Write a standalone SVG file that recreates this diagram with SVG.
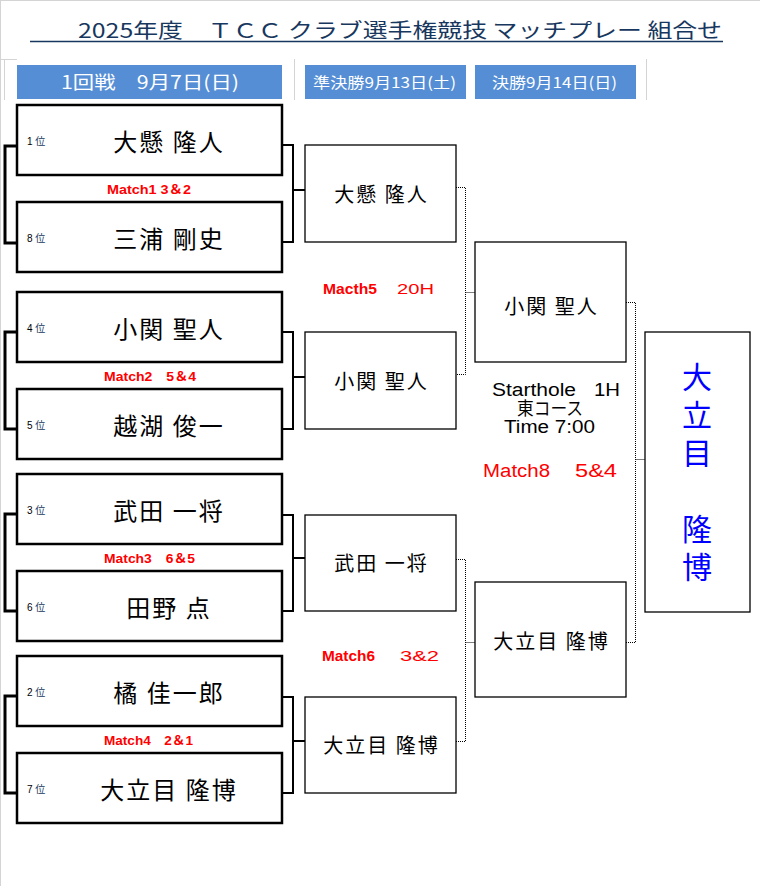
<svg xmlns="http://www.w3.org/2000/svg" width="760" height="886" viewBox="0 0 760 886">
<style>
  .bg { fill: #ffffff; }
  .grid { stroke: #d4d4d4; stroke-width: 1; fill: none; }
  .title { font-family: "Noto Sans CJK JP", "Liberation Sans", sans-serif; font-size: 20px; fill: #17375e; }
  .bar { fill: #558ed5; }
  .bartxt { font-family: "Noto Sans CJK JP", "Liberation Sans", sans-serif; fill: #ffffff; }
  .box1 { fill: #ffffff; stroke: #000000; stroke-width: 2.5; }
  .box2 { fill: #ffffff; stroke: #000000; stroke-width: 1.3; }
  .name { font-family: "Noto Sans CJK JP", sans-serif; fill: #000000; text-anchor: middle; }
  .n1 { font-size: 24px; letter-spacing: 2px; }
  .n2 { font-size: 20px; letter-spacing: 2px; }
  .rank { font-family: "Liberation Sans", "Noto Sans CJK JP", sans-serif; font-size: 10px; fill: #000000; }
  .rankc { fill: #17375e; font-family: "Noto Sans CJK JP", sans-serif; }
  .match { font-family: "Liberation Sans", "Noto Sans CJK JP", sans-serif; font-size: 12px; font-weight: bold; fill: #ff0000; }
  .matchs { font-family: "Liberation Sans", "Noto Sans CJK JP", sans-serif; font-size: 14px; font-weight: bold; fill: #ff0000; }
  .matchn { font-family: "Liberation Sans", "Noto Sans CJK JP", sans-serif; font-size: 15px; fill: #ff0000; }
  .info { font-family: "Liberation Sans", "Noto Sans CJK JP", sans-serif; font-size: 18px; fill: #000000; }
  .red18 { font-family: "Liberation Sans", "Noto Sans CJK JP", sans-serif; font-size: 18px; fill: #ff0000; }
  .champ { font-family: "Noto Sans CJK JP", sans-serif; font-size: 30px; fill: #0000ff; writing-mode: vertical-rl; letter-spacing: 8px; }
  .thick { stroke: #000000; stroke-width: 3; fill: none; }
  .mid { stroke: #000000; stroke-width: 2; fill: none; }
  .dot { stroke: #000000; stroke-width: 1; stroke-dasharray: 1 1; fill: none; }
</style>
<rect class="bg" x="0" y="0" width="760" height="886"/>
<g id="page-grid">
  <line class="grid" x1="0.5" y1="0" x2="0.5" y2="886"/>
  <line class="grid" x1="0" y1="0.5" x2="760" y2="0.5"/>
  <line class="grid" x1="0" y1="59.5" x2="17" y2="59.5"/>
  <line class="grid" x1="4.5" y1="59" x2="4.5" y2="100"/>
  <line class="grid" x1="294.5" y1="59" x2="294.5" y2="100"/>
  <line class="grid" x1="646.5" y1="59" x2="646.5" y2="100"/>
</g>
<g id="title">
  <text class="title" x="78" y="38" textLength="644" lengthAdjust="spacingAndGlyphs">2025年度　ＴＣＣ クラブ選手権競技 マッチプレー 組合せ</text>
  <line x1="30" y1="41.5" x2="723" y2="41.5" stroke="#17375e" stroke-width="1.3"/>
</g>
<g id="headers">
  <rect class="bar" x="17" y="65" width="265" height="34"/>
  <text class="bartxt" x="61" y="89" font-size="18" textLength="178" lengthAdjust="spacingAndGlyphs">1回戦　9月7日(日)</text>
  <rect class="bar" x="305" y="65" width="161" height="34"/>
  <text class="bartxt" x="313" y="88" font-size="15" textLength="143" lengthAdjust="spacingAndGlyphs">準決勝9月13日(土)</text>
  <rect class="bar" x="475" y="65" width="161" height="34"/>
  <text class="bartxt" x="492" y="88" font-size="15" textLength="125" lengthAdjust="spacingAndGlyphs">決勝9月14日(日)</text>
</g>
<g id="connectors">
  <path class="thick" d="M17,146 H5 V243 H17"/>
  <path class="thick" d="M17,332 H5 V429 H17"/>
  <path class="thick" d="M17,514 H5 V611 H17"/>
  <path class="thick" d="M17,696 H5 V793 H17"/>
  <path class="mid" d="M282,145 H293 V242 H282 M293,190 H305"/>
  <path class="mid" d="M282,332 H293 V429 H282 M293,377 H305"/>
  <path class="mid" d="M282,515 H293 V611 H282 M293,558 H305"/>
  <path class="mid" d="M282,697 H293 V793 H282 M293,741 H305"/>
  <path class="dot" d="M456,187.5 H465.5 V374.5 H456 M465.5,292.5 H475"/>
  <path class="dot" d="M456,559.5 H465.5 V741.5 H456 M465.5,642.5 H475"/>
  <path class="dot" d="M626,302.5 H635.5 V642.5 H626 M635.5,459.5 H645"/>
</g>
<g id="r1-m1">
  <rect class="box1" x="17" y="105" width="265" height="70"/>
  <text class="rank" x="27" y="145">1 <tspan class="rankc">位</tspan></text>
  <text class="name n1" x="169" y="151">大懸 隆人</text>
  <rect class="box1" x="17" y="202" width="265" height="70"/>
  <text class="rank" x="27" y="242">8 <tspan class="rankc">位</tspan></text>
  <text class="name n1" x="169" y="248">三浦 剛史</text>
  <text class="match" x="107" y="194" textLength="84" lengthAdjust="spacingAndGlyphs">Match1 3＆2</text>
</g>
<g id="r1-m2">
  <rect class="box1" x="17" y="292" width="265" height="70"/>
  <text class="rank" x="27" y="332">4 <tspan class="rankc">位</tspan></text>
  <text class="name n1" x="169" y="338">小関 聖人</text>
  <rect class="box1" x="17" y="389" width="265" height="70"/>
  <text class="rank" x="27" y="429">5 <tspan class="rankc">位</tspan></text>
  <text class="name n1" x="169" y="435">越湖 俊一</text>
  <text class="match" x="104" y="381" textLength="92" lengthAdjust="spacingAndGlyphs">Match2　5＆4</text>
</g>
<g id="r1-m3">
  <rect class="box1" x="17" y="474" width="265" height="70"/>
  <text class="rank" x="27" y="514">3 <tspan class="rankc">位</tspan></text>
  <text class="name n1" x="169" y="520">武田 一将</text>
  <rect class="box1" x="17" y="571" width="265" height="70"/>
  <text class="rank" x="27" y="611">6 <tspan class="rankc">位</tspan></text>
  <text class="name n1" x="169" y="617">田野 点</text>
  <text class="match" x="104" y="563" textLength="91" lengthAdjust="spacingAndGlyphs">Match3　6＆5</text>
</g>
<g id="r1-m4">
  <rect class="box1" x="17" y="656" width="265" height="70"/>
  <text class="rank" x="27" y="696">2 <tspan class="rankc">位</tspan></text>
  <text class="name n1" x="169" y="702">橘 佳一郎</text>
  <rect class="box1" x="17" y="753" width="265" height="70"/>
  <text class="rank" x="27" y="793">7 <tspan class="rankc">位</tspan></text>
  <text class="name n1" x="169" y="799">大立目 隆博</text>
  <text class="match" x="104" y="745" textLength="89" lengthAdjust="spacingAndGlyphs">Match4　2＆1</text>
</g>
<g id="semi-1">
  <rect class="box2" x="305" y="145" width="151" height="97"/>
  <text class="name n2" x="381.5" y="202">大懸 隆人</text>
  <rect class="box2" x="305" y="332" width="151" height="97"/>
  <text class="name n2" x="381.5" y="389">小関 聖人</text>
  <text class="matchs" x="323" y="294" textLength="54" lengthAdjust="spacingAndGlyphs">Macth5</text>
  <text class="matchn" x="397" y="294" textLength="37" lengthAdjust="spacingAndGlyphs">20H</text>
</g>
<g id="semi-2">
  <rect class="box2" x="305" y="515" width="151" height="96"/>
  <text class="name n2" x="381.5" y="571">武田 一将</text>
  <rect class="box2" x="305" y="697" width="151" height="96"/>
  <text class="name n2" x="381.5" y="753">大立目 隆博</text>
  <text class="matchs" x="322" y="661" textLength="53" lengthAdjust="spacingAndGlyphs">Match6</text>
  <text class="matchn" x="400" y="661" textLength="39" lengthAdjust="spacingAndGlyphs">3&amp;2</text>
</g>
<g id="final">
  <rect class="box2" x="475" y="242" width="151" height="120"/>
  <text class="name n2" x="551.5" y="314">小関 聖人</text>
  <rect class="box2" x="475" y="582" width="151" height="115"/>
  <text class="name n2" x="551.5" y="649">大立目 隆博</text>
  <text class="info" x="492" y="396" textLength="84" lengthAdjust="spacingAndGlyphs">Starthole</text>
  <text class="info" x="594" y="396" textLength="26" lengthAdjust="spacingAndGlyphs">1H</text>
  <text class="info" x="517" y="415" textLength="66" lengthAdjust="spacingAndGlyphs">東コース</text>
  <text class="info" x="504" y="433" textLength="91" lengthAdjust="spacingAndGlyphs">Time 7:00</text>
  <text class="red18" x="483" y="477" textLength="67" lengthAdjust="spacingAndGlyphs">Match8</text>
  <text class="red18" x="575" y="477" textLength="42" lengthAdjust="spacingAndGlyphs">5&amp;4</text>
</g>
<g id="champion">
  <rect class="box2" x="645" y="332" width="105" height="280"/>
  <text class="champ" x="697" y="362">大立目　隆博</text>
</g>
</svg>
